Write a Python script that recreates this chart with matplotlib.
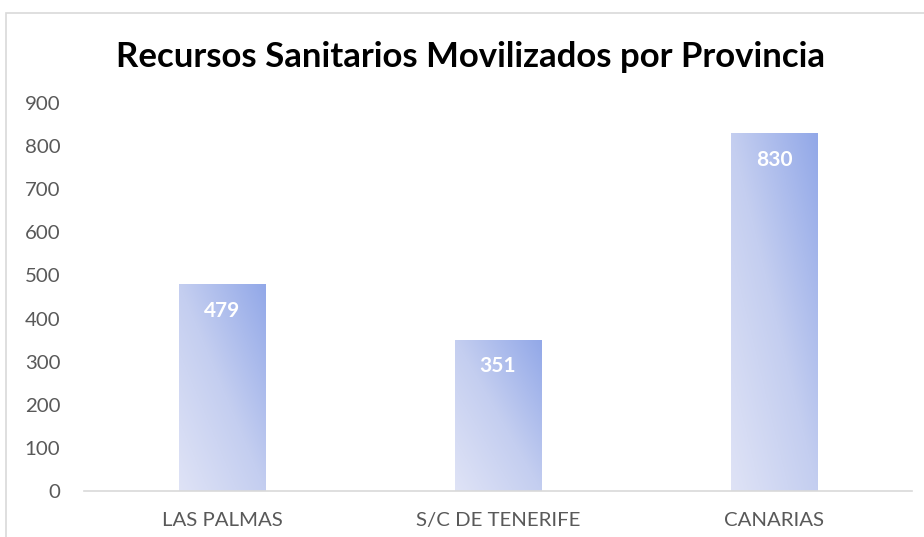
import matplotlib
matplotlib.use("Agg")
import matplotlib.pyplot as plt
import numpy as np
from matplotlib.colors import LinearSegmentedColormap
from matplotlib.patches import Rectangle

categories = ["LAS PALMAS", "S/C DE TENERIFE", "CANARIAS"]
values = [479, 351, 830]
yticks = [0, 100, 200, 300, 400, 500, 600, 700, 800, 900]
title = "Recursos Sanitarios Movilizados por Provincia"

plt.rcParams['font.family'] = ['Lato', 'DejaVu Sans']

W, H = 924, 537
fig = plt.figure(figsize=(W / 100, H / 100), dpi=100)
fig.patch.set_facecolor("white")

# outer chart border (cropped at right and bottom)
fig.patches.append(Rectangle((6 / W, -0.1), 1.2, 1 - 13 / H + 0.1,
                             transform=fig.transFigure, fill=False,
                             edgecolor="#d9d9d9", linewidth=1.2))

ax = fig.add_axes([84 / W, 1 - 491 / H, (912 - 84) / W, (491 - 103) / H])
x = np.arange(len(categories))
bars = ax.bar(x, values, width=0.315, facecolor="none", edgecolor="none")

cmap = LinearSegmentedColormap.from_list("g", ["#dfe3f6", "#c4cef0", "#92a8e8"])
u = np.linspace(0, 1, 100)
v = np.linspace(0, 1, 300)
U, V = np.meshgrid(u, v)
grad = (U + V) / 2
for b in bars:
    x0, y0, w, h = b.get_x(), b.get_y(), b.get_width(), b.get_height()
    im = ax.imshow(grad, cmap=cmap, extent=[x0, x0 + w, y0, y0 + h],
                   origin="lower", aspect="auto", vmin=0, vmax=1, zorder=2)
    im.set_clip_path(b)

for xi, val in zip(x, values):
    ax.annotate(str(val), (xi, val), xytext=(0, -19), textcoords="offset points",
                ha="center", va="center", color="white", fontsize=15,
                fontweight="bold", zorder=3)

ax.set_xlim(-0.5, len(categories) - 0.5)
ax.set_ylim(0, 900)
ax.set_yticks(yticks)
ax.set_yticklabels([str(t) for t in yticks])
ax.set_xticks(x)
ax.set_xticklabels(categories)
ax.tick_params(axis="both", length=0, labelsize=14.7, labelcolor="#595959")
ax.tick_params(axis="y", pad=17)
ax.tick_params(axis="x", pad=15)
for s in ["top", "right", "left"]:
    ax.spines[s].set_visible(False)
ax.spines["bottom"].set_color("#d9d9d9")
ax.spines["bottom"].set_linewidth(1.2)
ax.set_facecolor("none")

fig.text(471 / W, 1 - 57 / H, title, ha="center", va="center",
         fontsize=25, fontweight="bold", color="black")

fig.savefig("out.png", dpi=100, facecolor="white")
